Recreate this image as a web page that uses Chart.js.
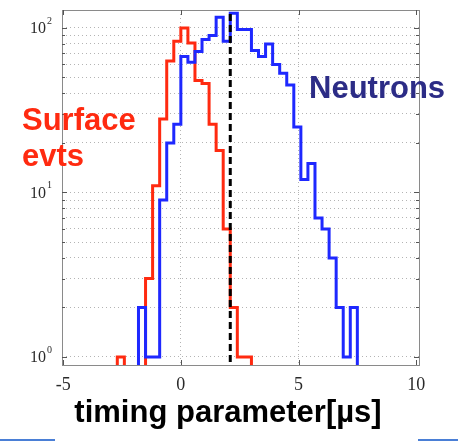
<!DOCTYPE html>
<html>
<head>
<meta charset="utf-8">
<script src="https://cdn.jsdelivr.net/npm/chart.js@4.4.0/dist/chart.umd.min.js"></script>
<style>
  html, body { margin: 0; padding: 0; background: #ffffff; }
  #wrap { position: relative; width: 458px; height: 443px; }
</style>
</head>
<body>
<div id="wrap"><canvas id="chart" width="458" height="443"></canvas></div>
<script>
// Histogram of the timing parameter, 0.3 µs bins (left edges listed)
const surfaceEdges = [-3.0, -2.7, -2.4, -2.1, -1.8, -1.5, -1.2, -0.9, -0.6, -0.3, 0.0,
                      0.3, 0.6, 0.9, 1.2, 1.5, 1.8, 2.1, 2.4, 2.7, 3.0];
const surfaceCounts = [0, 1, 0, 0, 0, 3, 11, 28, 63, 83, 100,
                       81, 48, 46, 26, 18, 6, 2, 1, 1, 0];

const neutronEdges = [-2.1, -1.8, -1.5, -1.2, -0.9, -0.6, -0.3, 0.0, 0.3, 0.6, 0.9,
                      1.2, 1.5, 1.8, 2.1, 2.4, 2.7, 3.0, 3.3, 3.6, 3.9, 4.2,
                      4.5, 4.8, 5.1, 5.4, 5.7, 6.0, 6.3, 6.6, 6.9, 7.2, 7.5];
const neutronCounts = [0, 2, 1, 1, 9, 20, 26, 67, 62, 72, 85,
                       90, 116, 83, 123, 98, 98, 73, 67, 80, 60, 53,
                       45, 25, 12, 15, 7, 6, 4, 2, 1, 2, 0];

// Selection cut on the timing parameter (µs)
const cutValue = 2.1;

// Axis ticks
const xTickValues = [-5, 0, 5, 10];
const yTickValues = [1, 2, 3, 4, 5, 6, 7, 8, 9, 10, 20, 30, 40, 50, 60, 70, 80, 90, 100];
const yLabelValues = [1, 10, 100];
const superscripts = { 0: '0', 1: '1', 2: '2' };

// Empty bins sit below the log axis so the step outline drops out of view
const EMPTY = 0.05;
function steps(edges, counts) {
  return edges.map((x, i) => ({ x: x, y: counts[i] > 0 ? counts[i] : EMPTY }));
}

const GRID = '#b4b4b4';

// Box around the plot with inward tick marks, y labels with exponents, and text
const decorations = {
  id: 'decorations',
  afterDatasetsDraw(chart) {
    const { ctx, chartArea: a, scales } = chart;
    const xs = scales.x, ys = scales.y;
    ctx.save();
    ctx.strokeStyle = '#8a8a8a';
    ctx.lineWidth = 1;
    ctx.strokeRect(Math.round(a.left) + 0.5, Math.round(a.top) + 0.5,
                   Math.round(a.right - a.left), Math.round(a.bottom - a.top));
    ctx.strokeStyle = '#555';
    ctx.beginPath();
    xTickValues.forEach(v => {
      const px = Math.round(xs.getPixelForValue(v)) + 0.5;
      ctx.moveTo(px, a.bottom); ctx.lineTo(px, a.bottom - 5);
      ctx.moveTo(px, a.top); ctx.lineTo(px, a.top + 5);
    });
    yTickValues.forEach(v => {
      const py = Math.round(ys.getPixelForValue(v)) + 0.5;
      const len = yLabelValues.includes(v) ? 5 : 3;
      ctx.moveTo(a.left, py); ctx.lineTo(a.left + len, py);
      ctx.moveTo(a.right, py); ctx.lineTo(a.right - len, py);
    });
    ctx.stroke();
    ctx.restore();
  },
  afterDraw(chart) {
    const { ctx, scales } = chart;
    const ys = scales.y;
    ctx.save();
    // y tick labels: 10 with a raised exponent
    ctx.fillStyle = '#2a2a2a';
    ctx.textBaseline = 'middle';
    yLabelValues.forEach(v => {
      const py = ys.getPixelForValue(v);
      const exp = Math.round(Math.log10(v));
      ctx.font = '16px "Liberation Serif", serif';
      ctx.textAlign = 'right';
      ctx.fillText('10', 46, py + 1);
      ctx.font = '10px "Liberation Serif", serif';
      ctx.textAlign = 'left';
      ctx.fillText(superscripts[exp], 47, py - 7);
    });

    ctx.textBaseline = 'alphabetic';
    ctx.textAlign = 'left';
    ctx.font = 'bold 31px "Liberation Sans", Arial, sans-serif';
    ctx.fillStyle = '#ff2a10';
    ctx.fillText('Surface', 22, 130);
    ctx.fillText('evts', 22, 166);
    ctx.fillStyle = '#2c2c86';
    ctx.fillText('Neutrons', 309, 98);

    // axis title
    ctx.fillStyle = '#000';
    ctx.textAlign = 'center';
    ctx.font = 'bold 31px "Liberation Sans", Arial, sans-serif';
    ctx.fillText('timing parameter[\u00b5s]', 228, 422);

    // slide rule segments under the title
    ctx.strokeStyle = '#4a7fd6';
    ctx.lineWidth = 2;
    ctx.beginPath();
    ctx.moveTo(0, 440); ctx.lineTo(55, 440);
    ctx.moveTo(418, 440); ctx.lineTo(458, 440);
    ctx.stroke();
    ctx.restore();
  }
};

new Chart(document.getElementById('chart').getContext('2d'), {
  type: 'line',
  data: {
    datasets: [
      {
        label: 'cut',
        data: [{ x: cutValue, y: EMPTY }, { x: cutValue, y: 10000 }],
        borderColor: '#000000',
        borderWidth: 3,
        borderDash: [7, 4],
        pointRadius: 0
      },
      {
        label: 'Neutrons',
        data: steps(neutronEdges, neutronCounts),
        stepped: 'before',
        borderColor: '#1e28ff',
        borderWidth: 3,
        borderJoinStyle: 'miter',
        borderCapStyle: 'butt',
        pointRadius: 0
      },
      {
        label: 'Surface evts',
        data: steps(surfaceEdges, surfaceCounts),
        stepped: 'before',
        borderColor: '#ff2a10',
        borderWidth: 3,
        borderJoinStyle: 'miter',
        borderCapStyle: 'butt',
        pointRadius: 0
      }
    ]
  },
  options: {
    responsive: false,
    animation: false,
    events: [],
    layout: { padding: { left: 0, right: 39, top: 10, bottom: 0 } },
    plugins: { legend: { display: false }, tooltip: { enabled: false } },
    scales: {
      x: {
        type: 'linear',
        min: -5.05,
        max: 10.12,
        afterBuildTicks: s => { s.ticks = xTickValues.map(v => ({ value: v })); },
        afterFit: s => { s.height = 78; },
        grid: {
          color: c => (c.tick && (c.tick.value === -5 || c.tick.value === 10)) ? 'rgba(0,0,0,0)' : GRID,
          lineWidth: 1,
          drawTicks: false
        },
        border: { display: false, dash: [1, 3] },
        ticks: {
          font: { family: '"Liberation Serif", serif', size: 18 },
          color: '#2a2a2a',
          padding: 9,
          maxRotation: 0,
          autoSkip: false
        }
      },
      y: {
        type: 'logarithmic',
        min: 0.894,
        max: 128.6,
        afterBuildTicks: s => { s.ticks = yTickValues.map(v => ({ value: v })); },
        afterFit: s => { s.width = 62; },
        grid: { color: GRID, lineWidth: 1, drawTicks: false },
        border: { display: false, dash: [1, 3] },
        ticks: { display: false }
      }
    }
  },
  plugins: [decorations]
});
</script>
</body>
</html>
